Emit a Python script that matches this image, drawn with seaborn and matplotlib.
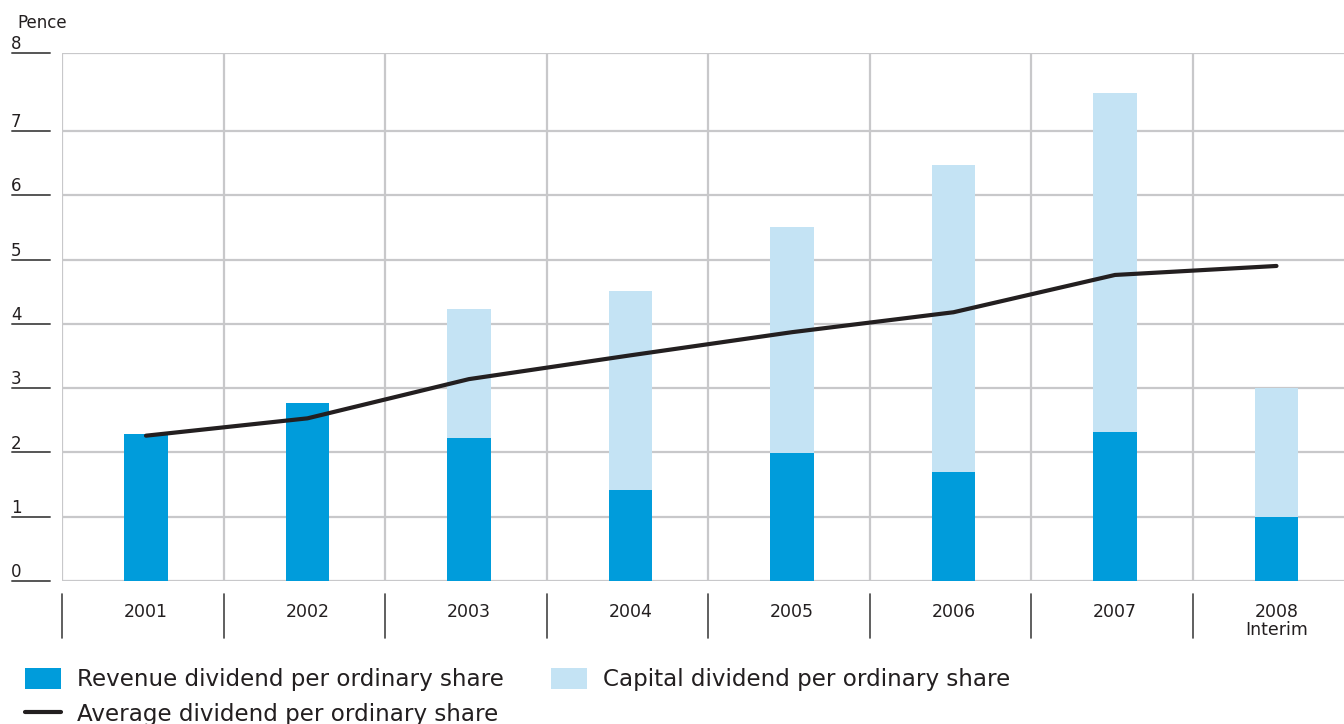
import numpy as np
import pandas as pd
import matplotlib

matplotlib.use('Agg')
import matplotlib.pyplot as plt
import matplotlib.transforms as mtransforms
import seaborn as sns

##################### Chart data
years = ['2001', '2002', '2003', '2004', '2005', '2006', '2007', '2008\nInterim']
revenue = [2.29, 2.77, 2.22, 1.42, 1.99, 1.70, 2.32, 1.00]
capital = [0.0, 0.0, 2.01, 3.09, 3.52, 4.77, 5.27, 2.00]
average = [2.26, 2.53, 3.14, 3.51, 3.87, 4.18, 4.76, 4.90]
ytick_vals = [0, 1, 2, 3, 4, 5, 6, 7, 8.22]
ytick_labels = ['0', '1', '2', '3', '4', '5', '6', '7', '8']

rev_col = '#009cdb'
cap_col = '#c4e3f4'
line_col = '#231f20'
grid_col = '#c8c8ca'
text_col = '#231f20'

df = pd.DataFrame({'year': years, 'revenue': revenue, 'capital': capital, 'average': average})
df['total'] = df['revenue'] + df['capital']

sns.set_style("white")
plt.rcParams['font.family'] = ['DejaVu Sans']
plt.rcParams['text.color'] = text_col

W, H = 1344, 724
fig = plt.figure(figsize=[W / 100, H / 100], dpi=100)
ax = fig.add_axes([62 / W, (H - 581) / H, 1292 / W, (581 - 52.5) / H])

sns.barplot(data=df, x='year', y='total', color=cap_col, width=0.27, saturation=1, ax=ax, zorder=3,
            linewidth=0, label='Capital dividend per ordinary share')
sns.barplot(data=df, x='year', y='revenue', color=rev_col, width=0.27, saturation=1, ax=ax, zorder=4,
            linewidth=0, label='Revenue dividend per ordinary share')
sns.lineplot(x=np.arange(len(years)), y=df['average'], color=line_col, lw=3, ax=ax, zorder=5,
             label='Average dividend per ordinary share')

ax.set_xlim(-0.52, len(years) - 0.52)
ax.set_ylim(0, ytick_vals[-1])

# grid lines
for v in ytick_vals:
    ax.axhline(v, color=grid_col, lw=1.6, zorder=1)
for k in range(len(years)):
    ax.axvline(k - 0.52, color=grid_col, lw=1.6, zorder=1)
for s in ax.spines.values():
    s.set_visible(False)

ax.set_xlabel('')
ax.set_ylabel('')
ax.set_yticks([])
ax.set_xticks(range(len(years)))
ax.set_xticklabels(years, fontsize=12.5, color=text_col, linespacing=1.0, va='top')
ax.tick_params(axis='x', length=0, pad=16)

# y labels with underline segments on the left
tr = mtransforms.blended_transform_factory(fig.transFigure, ax.transData)
for v, lab in zip(ytick_vals, ytick_labels):
    ax.plot([12 / W, 50 / W], [v, v], transform=tr, color='#555555', lw=1.4, clip_on=False)
    ax.text(11 / W, v + 0.06, lab, transform=tr, fontsize=12, ha='left', va='baseline', color=text_col)
fig.text(17 / W, 1 - 23 / H, 'Pence', fontsize=12, ha='left', va='center', color=text_col)

# category separators below the axis
tr2 = mtransforms.blended_transform_factory(ax.transData, fig.transFigure)
for k in range(len(years)):
    ax.plot([k - 0.52, k - 0.52], [1 - 594 / H, 1 - 638 / H], transform=tr2, color='#444444', lw=1.2,
            clip_on=False)

# legend
h, l = ax.get_legend_handles_labels()
order = [l.index('Revenue dividend per ordinary share'), l.index('Average dividend per ordinary share'),
         l.index('Capital dividend per ordinary share')]
ax.get_legend().remove()
fig.legend([h[i] for i in order], [l[i] for i in order], ncol=2, loc='upper left',
           bbox_to_anchor=(25 / W, 1 - 668 / H), frameon=False, fontsize=16.6,
           handlelength=1.55, handleheight=1.0, handletextpad=0.7, columnspacing=2.05,
           labelspacing=0.5, borderpad=0, borderaxespad=0)

fig.savefig('out.png', dpi=100)
